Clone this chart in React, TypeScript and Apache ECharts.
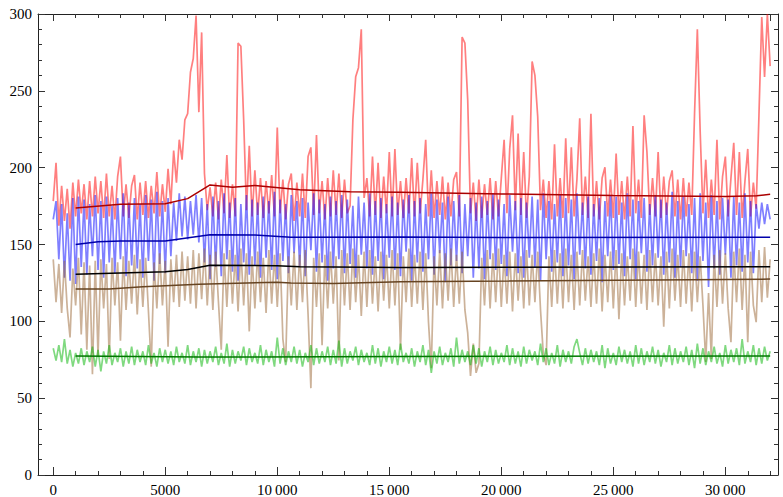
import React, { useEffect, useRef } from "react";
import * as echarts from "echarts";

// sample spacing along the x axis (the series are sampled every 125 units, 0..32000)
const STEP = 125;

const redValues = [
  178, 203, 162, 188, 165, 186, 160, 190,
  168, 192, 170, 189, 166, 191, 168, 194,
  170, 191, 167, 196, 168, 188, 166, 194,
  207, 168, 189, 167, 188, 195, 166, 190,
  169, 191, 167, 188, 170, 197, 168, 189,
  171, 199, 176, 211, 190, 218, 205, 231,
  235, 262, 271, 299, 236, 288, 196, 172,
  187, 168, 190, 166, 192, 170, 208, 167,
  189, 168, 281, 279, 231, 172, 214, 168,
  198, 169, 193, 167, 191, 170, 195, 168,
  226, 170, 192, 166, 189, 196, 165, 190,
  168, 196, 167, 207, 213, 169, 221, 170,
  191, 166, 193, 168, 198, 169, 196, 167,
  192, 170, 175, 231, 259, 265, 290, 180,
  193, 168, 207, 169, 203, 167, 194, 170,
  210, 168, 212, 169, 191, 167, 193, 170,
  206, 168, 203, 170, 192, 218, 168, 198,
  167, 191, 169, 194, 166, 190, 168, 192,
  197, 168, 285, 281, 244, 170, 190, 165,
  192, 167, 189, 169, 193, 166, 191, 168,
  193, 218, 170, 212, 234, 172, 222, 169,
  210, 167, 194, 269, 260, 233, 172, 192,
  167, 191, 166, 215, 168, 193, 167, 219,
  170, 213, 168, 192, 232, 169, 194, 167,
  235, 168, 191, 166, 193, 200, 168, 192,
  167, 209, 169, 191, 166, 194, 168, 227,
  170, 192, 167, 234, 210, 169, 193, 168,
  210, 167, 194, 169, 191, 198, 168, 192,
  166, 193, 168, 190, 169, 235, 290, 224,
  170, 205, 167, 192, 169, 218, 166, 194,
  207, 168, 193, 216, 169, 210, 167, 191,
  212, 168, 190, 173, 234, 298, 259, 300,
  266,
];

const blueValues = [
  166, 178, 140, 176, 128, 170, 126, 180,
  124, 181, 135, 179, 130, 176, 142, 182,
  133, 178, 128, 181, 138, 175, 131, 180,
  140, 183, 129, 177, 136, 180, 134, 176,
  128, 182, 139, 179, 126, 184, 137, 178,
  131, 180, 142, 177, 152, 183, 155, 181,
  153, 178, 156, 182, 151, 180, 138, 176,
  127, 181, 135, 178, 129, 183, 140, 177,
  132, 180, 126, 176, 138, 182, 130, 179,
  136, 177, 128, 181, 141, 178, 133, 184,
  127, 179, 139, 176, 131, 182, 144, 178,
  135, 180, 129, 177, 146, 183, 132, 179,
  138, 176, 126, 181, 134, 178, 140, 182,
  131, 179, 137, 175, 128, 181, 143, 177,
  134, 183, 130, 178, 139, 180, 127, 176,
  141, 181, 133, 177, 129, 179, 145, 182,
  126, 178, 138, 180, 132, 176, 140, 183,
  130, 179, 144, 177, 125, 181, 136, 178,
  139, 182, 131, 176, 142, 180, 128, 177,
  134, 181, 127, 178, 140, 183, 133, 179,
  137, 176, 129, 182, 145, 178, 131, 180,
  128, 177, 141, 181, 135, 179, 126, 183,
  140, 178, 132, 176, 138, 182, 129, 180,
  136, 179, 127, 183, 143, 177, 134, 181,
  130, 176, 139, 180, 125, 178, 142, 182,
  133, 181, 137, 177, 129, 183, 140, 179,
  127, 178, 144, 180, 132, 176, 136, 182,
  141, 179, 130, 177, 138, 184, 128, 178,
  135, 181, 142, 176, 131, 180, 126, 183,
  139, 177, 122, 182, 134, 178, 130, 180,
  143, 179, 128, 181, 136, 177, 132, 183,
  138, 178, 131, 176, 160, 177, 163, 176,
  166,
];

const tanValues = [
  140, 112, 137, 105, 139, 108, 89, 134,
  110, 141, 91, 138, 81, 136, 65, 139,
  77, 140, 108, 137, 75, 141, 110, 138,
  87, 142, 107, 139, 111, 143, 104, 140,
  109, 141, 106, 70, 138, 108, 144, 110,
  139, 83, 140, 112, 143, 109, 145, 113,
  142, 111, 146, 108, 144, 114, 147, 110,
  143, 107, 145, 112, 81, 144, 109, 146,
  111, 143, 106, 147, 110, 144, 93, 142,
  108, 145, 112, 141, 105, 146, 111, 143,
  109, 144, 88, 73, 142, 110, 145, 107,
  143, 112, 146, 104, 56, 141, 109, 144,
  84, 143, 108, 145, 111, 142, 74, 146,
  110, 144, 107, 147, 112, 143, 103, 145,
  109, 146, 111, 142, 106, 145, 113, 143,
  108, 146, 110, 144, 81, 142, 112, 147,
  109, 143, 111, 145, 107, 144, 99, 69,
  142, 110, 146, 108, 144, 113, 147, 109,
  143, 111, 145, 107, 92, 64, 85, 66,
  72, 141, 110, 146, 108, 144, 112, 147,
  109, 143, 111, 145, 106, 144, 113, 142,
  108, 146, 110, 143, 112, 145, 107, 78,
  71, 142, 109, 146, 111, 144, 108, 147,
  112, 143, 107, 145, 110, 146, 113, 142,
  109, 144, 111, 147, 106, 143, 112, 145,
  108, 146, 101, 144, 110, 142, 113, 147,
  109, 145, 111, 143, 107, 146, 112, 144,
  110, 142, 96, 145, 108, 147, 113, 143,
  109, 146, 111, 144, 106, 145, 112, 142,
  110, 73, 118, 75, 143, 109, 146, 111,
  144, 108, 86, 145, 112, 147, 107, 143,
  86, 145, 110, 99, 146, 112, 148, 115,
  140,
];

const greenValues = [
  82, 74, 84, 73, 88, 72, 81, 70,
  79, 72, 82, 71, 80, 73, 83, 70,
  81, 67, 80, 72, 84, 71, 79, 73,
  82, 70, 80, 72, 83, 71, 81, 73,
  80, 71, 84, 72, 79, 70, 82, 73,
  81, 72, 80, 71, 83, 73, 79, 72,
  84, 71, 80, 73, 82, 70, 81, 72,
  80, 73, 83, 71, 79, 72, 85, 70,
  81, 72, 80, 74, 83, 71, 82, 73,
  79, 72, 84, 71, 81, 73, 80, 70,
  89, 72, 82, 71, 80, 73, 83, 72,
  81, 70, 79, 73, 84, 71, 82, 72,
  80, 73, 83, 71, 81, 72, 87, 70,
  82, 72, 80, 74, 83, 71, 81, 73,
  79, 71, 84, 72, 82, 70, 80, 73,
  83, 72, 81, 71, 85, 73, 79, 72,
  82, 70, 80, 73, 84, 71, 81, 66,
  80, 72, 83, 71, 79, 73, 82, 70,
  89, 72, 81, 73, 80, 71, 84, 72,
  82, 70, 80, 73, 83, 71, 81, 72,
  79, 73, 84, 71, 82, 72, 80, 70,
  83, 72, 81, 74, 80, 71, 85, 73,
  82, 71, 79, 72, 84, 70, 81, 73,
  80, 72, 83, 88, 79, 71, 82, 72,
  81, 73, 80, 71, 84, 69, 82, 72,
  79, 71, 83, 73, 81, 72, 80, 70,
  84, 72, 82, 71, 80, 73, 83, 72,
  81, 70, 79, 73, 84, 71, 82, 72,
  80, 73, 83, 71, 81, 69, 85, 72,
  82, 71, 80, 73, 83, 72, 79, 70,
  84, 72, 81, 73, 82, 71, 88, 72,
  80, 73, 84, 71, 82, 72, 83, 74,
  80,
];

// running means (x, value)
const redMean = [
  [1000, 173.5], [3000, 176], [5000, 176.3], [6000, 179.6], [7000, 188.5],
  [8000, 187], [9000, 188.2], [11000, 185.4], [13250, 184.1], [15500, 183.7],
  [20000, 182.6], [25000, 181.7], [30000, 181], [31400, 181.5], [32000, 182.4],
];
const blueMean = [
  [1000, 149.6], [2000, 151.5], [3000, 152], [5000, 152], [7000, 156],
  [9000, 155.8], [10600, 154.4], [15500, 154.6], [20000, 154.2], [32000, 154.4],
];
const blackMean = [
  [1000, 130.3], [5000, 131.9], [6000, 133.4], [7000, 136.2], [10000, 135.8],
  [11000, 135.1], [15500, 134.7], [32000, 135.1],
];
const brownMean = [
  [1000, 120.6], [2500, 120.6], [4000, 122.1], [6500, 123.8], [10000, 125.1],
  [10600, 124.5], [12500, 124.3], [15500, 125.4], [32000, 127.1],
];
const greenMean = [
  [1000, 77], [6500, 76.3], [15500, 76.6], [32000, 77],
];

const xTickLabels = ["0", "5000", "10\u2009000", "15\u2009000", "20\u2009000", "25\u2009000", "30\u2009000"];
const yTickLabels = ["0", "50", "100", "150", "200", "250", "300"];

// plot frame spans x -680 .. 32350; data run 0 .. 32000
const FRAME_X_MIN = -680;
const FRAME_X_MAX = 32350;
const DATA_X_MIN = 0;
const DATA_X_MAX = 32000;
const FONT = '"Liberation Serif", "DejaVu Serif", serif';

const toPairs = (vals: number[]) => vals.map((v, i) => [i * STEP, v]);

export default function App() {
  const ref = useRef<HTMLDivElement>(null);
  useEffect(() => {
    if (!ref.current) return;
    const chart = echarts.init(ref.current, undefined, { renderer: "svg" });

    const W = 783;
    const frameLeft = 38;
    const frameRight = 778;
    const pxPerUnit = (frameRight - frameLeft) / (FRAME_X_MAX - FRAME_X_MIN);
    const dataLeft = frameLeft + (DATA_X_MIN - FRAME_X_MIN) * pxPerUnit;
    const dataRightPx = frameLeft + (DATA_X_MAX - FRAME_X_MIN) * pxPerUnit;

    const frameRect = { left: frameLeft, right: W - frameRight, top: 14, bottom: 22 };
    const dataRect = { left: dataLeft, right: W - dataRightPx, top: 14, bottom: 22 };

    const frameLine = { show: true, onZero: false, lineStyle: { color: "#222", width: 1 } };
    const noLine = { show: false, onZero: false };
    const tickStyle = { color: "#333", width: 1 };
    const hiddenY = (gridIndex: number) => ({
      type: "value", gridIndex, min: 0, max: 300, show: false,
      axisLine: noLine, splitLine: { show: false },
    });

    const noisy = (name: string, vals: number[], color: string) => ({
      type: "line",
      name,
      data: toPairs(vals),
      xAxisIndex: 2,
      yAxisIndex: 4,
      showSymbol: false,
      symbol: "none",
      clip: false,
      lineStyle: { color, width: 1.7 },
      z: 2,
      silent: true,
    });
    const mean = (name: string, pts: number[][], color: string) => ({
      type: "line",
      name,
      data: pts,
      xAxisIndex: 2,
      yAxisIndex: 4,
      showSymbol: false,
      symbol: "none",
      clip: false,
      lineStyle: { color, width: 1.5 },
      z: 3,
      silent: true,
    });

    chart.setOption({
      animation: false,
      backgroundColor: "#ffffff",
      grid: [{ ...frameRect }, { ...dataRect }, { ...dataRect }],
      xAxis: [
        // frame lines
        {
          type: "value", gridIndex: 0, position: "bottom", min: FRAME_X_MIN, max: FRAME_X_MAX,
          axisLine: frameLine, axisTick: { show: false }, axisLabel: { show: false }, splitLine: { show: false },
        },
        {
          type: "value", gridIndex: 0, position: "top", min: FRAME_X_MIN, max: FRAME_X_MAX,
          axisLine: frameLine, axisTick: { show: false }, axisLabel: { show: false }, splitLine: { show: false },
        },
        // data axis: major ticks + labels
        {
          type: "value", gridIndex: 1, position: "bottom", min: DATA_X_MIN, max: DATA_X_MAX, interval: 5000,
          axisLine: noLine, splitLine: { show: false },
          axisTick: { show: true, inside: true, length: 7, lineStyle: tickStyle },
          axisLabel: {
            show: true, margin: 8, color: "#000", fontFamily: FONT, fontSize: 15,
            showMaxLabel: false,
            formatter: (v: number) => (v % 5000 === 0 ? xTickLabels[v / 5000] ?? "" : ""),
          },
        },
        {
          type: "value", gridIndex: 1, position: "top", min: DATA_X_MIN, max: DATA_X_MAX, interval: 5000,
          axisLine: noLine, splitLine: { show: false },
          axisTick: { show: true, inside: true, length: 7, lineStyle: tickStyle },
          axisLabel: { show: false },
        },
        // minor ticks
        {
          type: "value", gridIndex: 2, position: "bottom", min: DATA_X_MIN, max: DATA_X_MAX, interval: 1000,
          axisLine: noLine, splitLine: { show: false },
          axisTick: { show: true, inside: true, length: 4, lineStyle: tickStyle },
          axisLabel: { show: false },
        },
        {
          type: "value", gridIndex: 2, position: "top", min: DATA_X_MIN, max: DATA_X_MAX, interval: 1000,
          axisLine: noLine, splitLine: { show: false },
          axisTick: { show: true, inside: true, length: 4, lineStyle: tickStyle },
          axisLabel: { show: false },
        },
      ],
      yAxis: [
        {
          type: "value", gridIndex: 0, position: "left", min: 0, max: 300, interval: 50,
          axisLine: frameLine, splitLine: { show: false },
          axisTick: { show: true, inside: true, length: 7, lineStyle: tickStyle },
          axisLabel: {
            show: true, margin: 6, color: "#000", fontFamily: FONT, fontSize: 15,
            formatter: (v: number) => (v % 50 === 0 ? yTickLabels[v / 50] ?? "" : ""),
          },
        },
        {
          type: "value", gridIndex: 0, position: "right", min: 0, max: 300, interval: 50,
          axisLine: frameLine, splitLine: { show: false },
          axisTick: { show: true, inside: true, length: 7, lineStyle: tickStyle },
          axisLabel: { show: false },
        },
        {
          type: "value", gridIndex: 0, position: "left", min: 0, max: 300, interval: 10,
          axisLine: noLine, splitLine: { show: false },
          axisTick: { show: true, inside: true, length: 4, lineStyle: tickStyle },
          axisLabel: { show: false },
        },
        {
          type: "value", gridIndex: 0, position: "right", min: 0, max: 300, interval: 10,
          axisLine: noLine, splitLine: { show: false },
          axisTick: { show: true, inside: true, length: 4, lineStyle: tickStyle },
          axisLabel: { show: false },
        },
        hiddenY(1),
        hiddenY(2),
      ],
      series: [
        noisy("red", redValues, "rgba(255,0,0,0.5)"),
        noisy("blue", blueValues, "rgba(0,0,255,0.5)"),
        noisy("tan", tanValues, "rgba(153,102,51,0.5)"),
        noisy("green", greenValues, "rgba(0,180,0,0.5)"),
        mean("redMean", redMean, "#aa0000"),
        mean("blueMean", blueMean, "#0000aa"),
        mean("blackMean", blackMean, "#000000"),
        mean("brownMean", brownMean, "#664422"),
        mean("greenMean", greenMean, "#007700"),
      ],
    });
    return () => chart.dispose();
  }, []);

  return (
    <div
      ref={ref}
      style={{ position: "fixed", left: 0, top: 0, width: 783, height: 497, background: "#fff" }}
    />
  );
}
